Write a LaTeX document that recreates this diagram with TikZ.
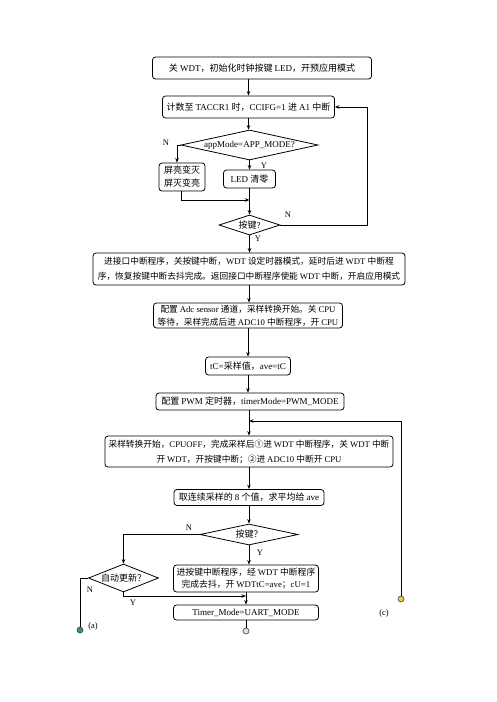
\documentclass[tikz,border=0pt]{standalone}
\usepackage{fontspec}
\setmainfont{Liberation Serif}
\newfontfamily\latinfont{Liberation Serif}
\newfontfamily\cjkfont{Noto Sans CJK SC}
\usetikzlibrary{arrows.meta,shapes.geometric}
% switch to the CJK face for Han characters and full-width signs
\XeTeXinterchartokenstate=1
\newXeTeXintercharclass\cjkclass
\count255="4E00
\loop
  \XeTeXcharclass\count255=\cjkclass
  \advance\count255 by 1
\ifnum\count255<"A000 \repeat
\XeTeXcharclass"FF0C=\cjkclass
\XeTeXcharclass"FF1B=\cjkclass
\XeTeXcharclass"FF1F=\cjkclass
\XeTeXcharclass"FF1A=\cjkclass
\XeTeXcharclass"3001=\cjkclass
\XeTeXcharclass"3002=\cjkclass
\XeTeXcharclass"2460=\cjkclass
\XeTeXcharclass"2461=\cjkclass
\XeTeXinterchartoks 0 \cjkclass = {\cjkfont}
\XeTeXinterchartoks 4095 \cjkclass = {\cjkfont}
\XeTeXinterchartoks \cjkclass 0 = {\latinfont}
\XeTeXinterchartoks 4095 0 = {\latinfont}
\definecolor{porta}{RGB}{40,150,140}
\definecolor{portc}{RGB}{220,210,60}
\tikzset{
  box/.style={draw, rounded corners=3pt, line width=0.8pt, inner sep=0pt, align=center, font=\fontsize{9}{13}\selectfont},
  decide/.style={draw, diamond, line width=0.8pt, inner sep=0pt, font=\fontsize{9}{11}\selectfont},
  flow/.style={line width=0.75pt, -{Stealth[length=4.5pt,width=3.5pt]}},
  link/.style={line width=0.75pt},
  tag/.style={inner sep=0pt, font=\fontsize{8.5}{10}\selectfont},
  port/.style={draw=black!75, line width=0.6pt, circle, inner sep=0pt, minimum size=6pt},
}
\begin{document}
\begin{tikzpicture}[x=1pt,y=-1pt]
		\useasboundingbox (0,0) rectangle (496,702);
		
		%%%%% upper part %%%%%
		\node[box, minimum width=219pt, minimum height=22pt] (init) at (262,68) {关 WDT，初始化时钟按键 LED，开预应用模式};
		\node[box, minimum width=172pt, minimum height=22pt] (count) at (248.5,107) {计数至 TACCR1 时，CCIFG=1 进 A1 中断};
		\node[decide, aspect=4.5, minimum width=137pt, minimum height=30pt] (app) at (249.5,145) {appMode=APP\_MODE?};
		\node[box, minimum width=46pt, minimum height=28pt] (flip) at (182,177) {屏亮变灭\\屏灭变亮};
		\node[box, minimum width=52pt, minimum height=18pt] (led) at (249.5,179) {LED 清零};
		\node[decide, aspect=3, minimum width=61pt, minimum height=20pt] (key) at (249.5,225) {按键?};
		
		\coordinate (nbend) at (177,145);
		\coordinate (fjoin) at (181,200);
		\coordinate (rgt) at (367,0);
		
		\draw[flow] (count.north |- init.south) -- (count.north);
		\draw[flow] (count.south) -- (count.south |- app.north);
		\draw[flow] (app.west) -- (nbend) -- (nbend |- flip.north);
		\draw[flow] (app.south) -- (app.south |- led.north);
		\draw[flow] (led.south) -- (led.south |- key.north);
		\draw[flow] (fjoin |- flip.south) -- (fjoin) -- (fjoin -| key.north);
		\draw[flow] (key.east) -- (key.east -| rgt) |- (count.east);
		
		\node[tag] (n1) at (166,143) {N};
		\node[tag] (y1) at (264,166) {Y};
		\node[tag] (n2) at (288,215) {N};
		\node[tag] (y2) at (258,239) {Y};
		
		%%%%% middle part %%%%%
		\node[box, minimum width=312pt, minimum height=32pt, font=\fontsize{8.7}{15}\selectfont] (irq) at (249,269) {进接口中断程序，关按键中断，WDT 设定时器模式，延时后进 WDT 中断程\\序，恢复按键中断去抖完成。返回接口中断程序使能 WDT 中断，开启应用模式};
		\node[box, minimum width=189pt, minimum height=25pt, font=\fontsize{8.7}{13}\selectfont] (adc) at (248,315.5) {配置 Adc sensor 通道，采样转换开始。关 CPU\\等待，采样完成后进 ADC10 中断程序，开 CPU};
		\node[box, minimum width=85pt, minimum height=18pt] (samp) at (248,366) {tC=采样值，ave=tC};
		\node[box, minimum width=188pt, minimum height=17pt] (pwm) at (250,401.5) {配置 PWM 定时器，timerMode=PWM\_MODE};
		\node[box, minimum width=288pt, minimum height=31pt, font=\fontsize{8.7}{15}\selectfont] (conv) at (249,451.5) {采样转换开始，CPUOFF，完成采样后①进 WDT 中断程序，关 WDT 中断\\开 WDT，开按键中断；②进 ADC10 中断开 CPU};
		\node[box, minimum width=150pt, minimum height=16pt] (avg) at (249,497.5) {取连续采样的 8 个值，求平均给 ave};
		
		\draw[flow] (key.south) -- (key.south |- irq.north);
		\draw[flow] (irq.south) -- (irq.south |- adc.north);
		\draw[flow] (adc.south) -- (adc.south |- samp.north);
		\draw[flow] (samp.south) -- (samp.south |- pwm.north);
		\draw[flow] (pwm.south -| conv.north) -- (conv.north);
		\draw[flow] (conv.south) -- (conv.south |- avg.north);
		
		%%%%% lower part %%%%%
		\node[decide, aspect=4.6, minimum width=98pt, minimum height=21pt] (key2) at (249,534.5) {按键？};
		\node[box, minimum width=145pt, minimum height=27pt, font=\fontsize{8.8}{12}\selectfont] (btn) at (246,578.5) {进按键中断程序，经 WDT 中断程序\\完成去抖，开 WDTtC=ave；cU=1};
		\node[decide, aspect=2.5, minimum width=70pt, minimum height=28pt] (auto) at (123.5,578) {自动更新？};
		\node[box, minimum width=145pt, minimum height=15pt] (uart) at (246,612.5) {Timer\_Mode=UART\_MODE};
		
		\node[port, fill=porta] (pa) at (80,630) {};
		\node[port, fill=black!12] (pb) at (246,631) {};
		\node[port, fill=portc] (pc) at (401,599) {};
		\node[tag] (la) at (93,626) {(a)};
		\node[tag] (lc) at (384,613) {(c)};
		
		\coordinate (cjoin) at (249,421);
		\coordinate (abend) at (80,578);
		\coordinate (ajoin) at (246,596);
		
		\draw[flow] (avg.south) -- (avg.south |- key2.north);
		\draw[flow] (key2.west) -| (auto.north);
		\draw[flow] (key2.south) -- (key2.south |- btn.north);
		\draw[link] (auto.west) -- (abend) -- (pa.north);
		\draw[flow] (auto.south) |- (ajoin);
		\draw[flow] (btn.south) -- (uart.north);
		\draw[link] (uart.south) -- (pb.north);
		\draw[flow] (pc.north) -- (pc.north |- cjoin) -- (cjoin);
		
		\node[tag] (n3) at (189,528) {N};
		\node[tag] (y3) at (260,553) {Y};
		\node[tag] (n4) at (90,590) {N};
		\node[tag] (y4) at (133,603) {Y};
\end{tikzpicture}
\end{document}
